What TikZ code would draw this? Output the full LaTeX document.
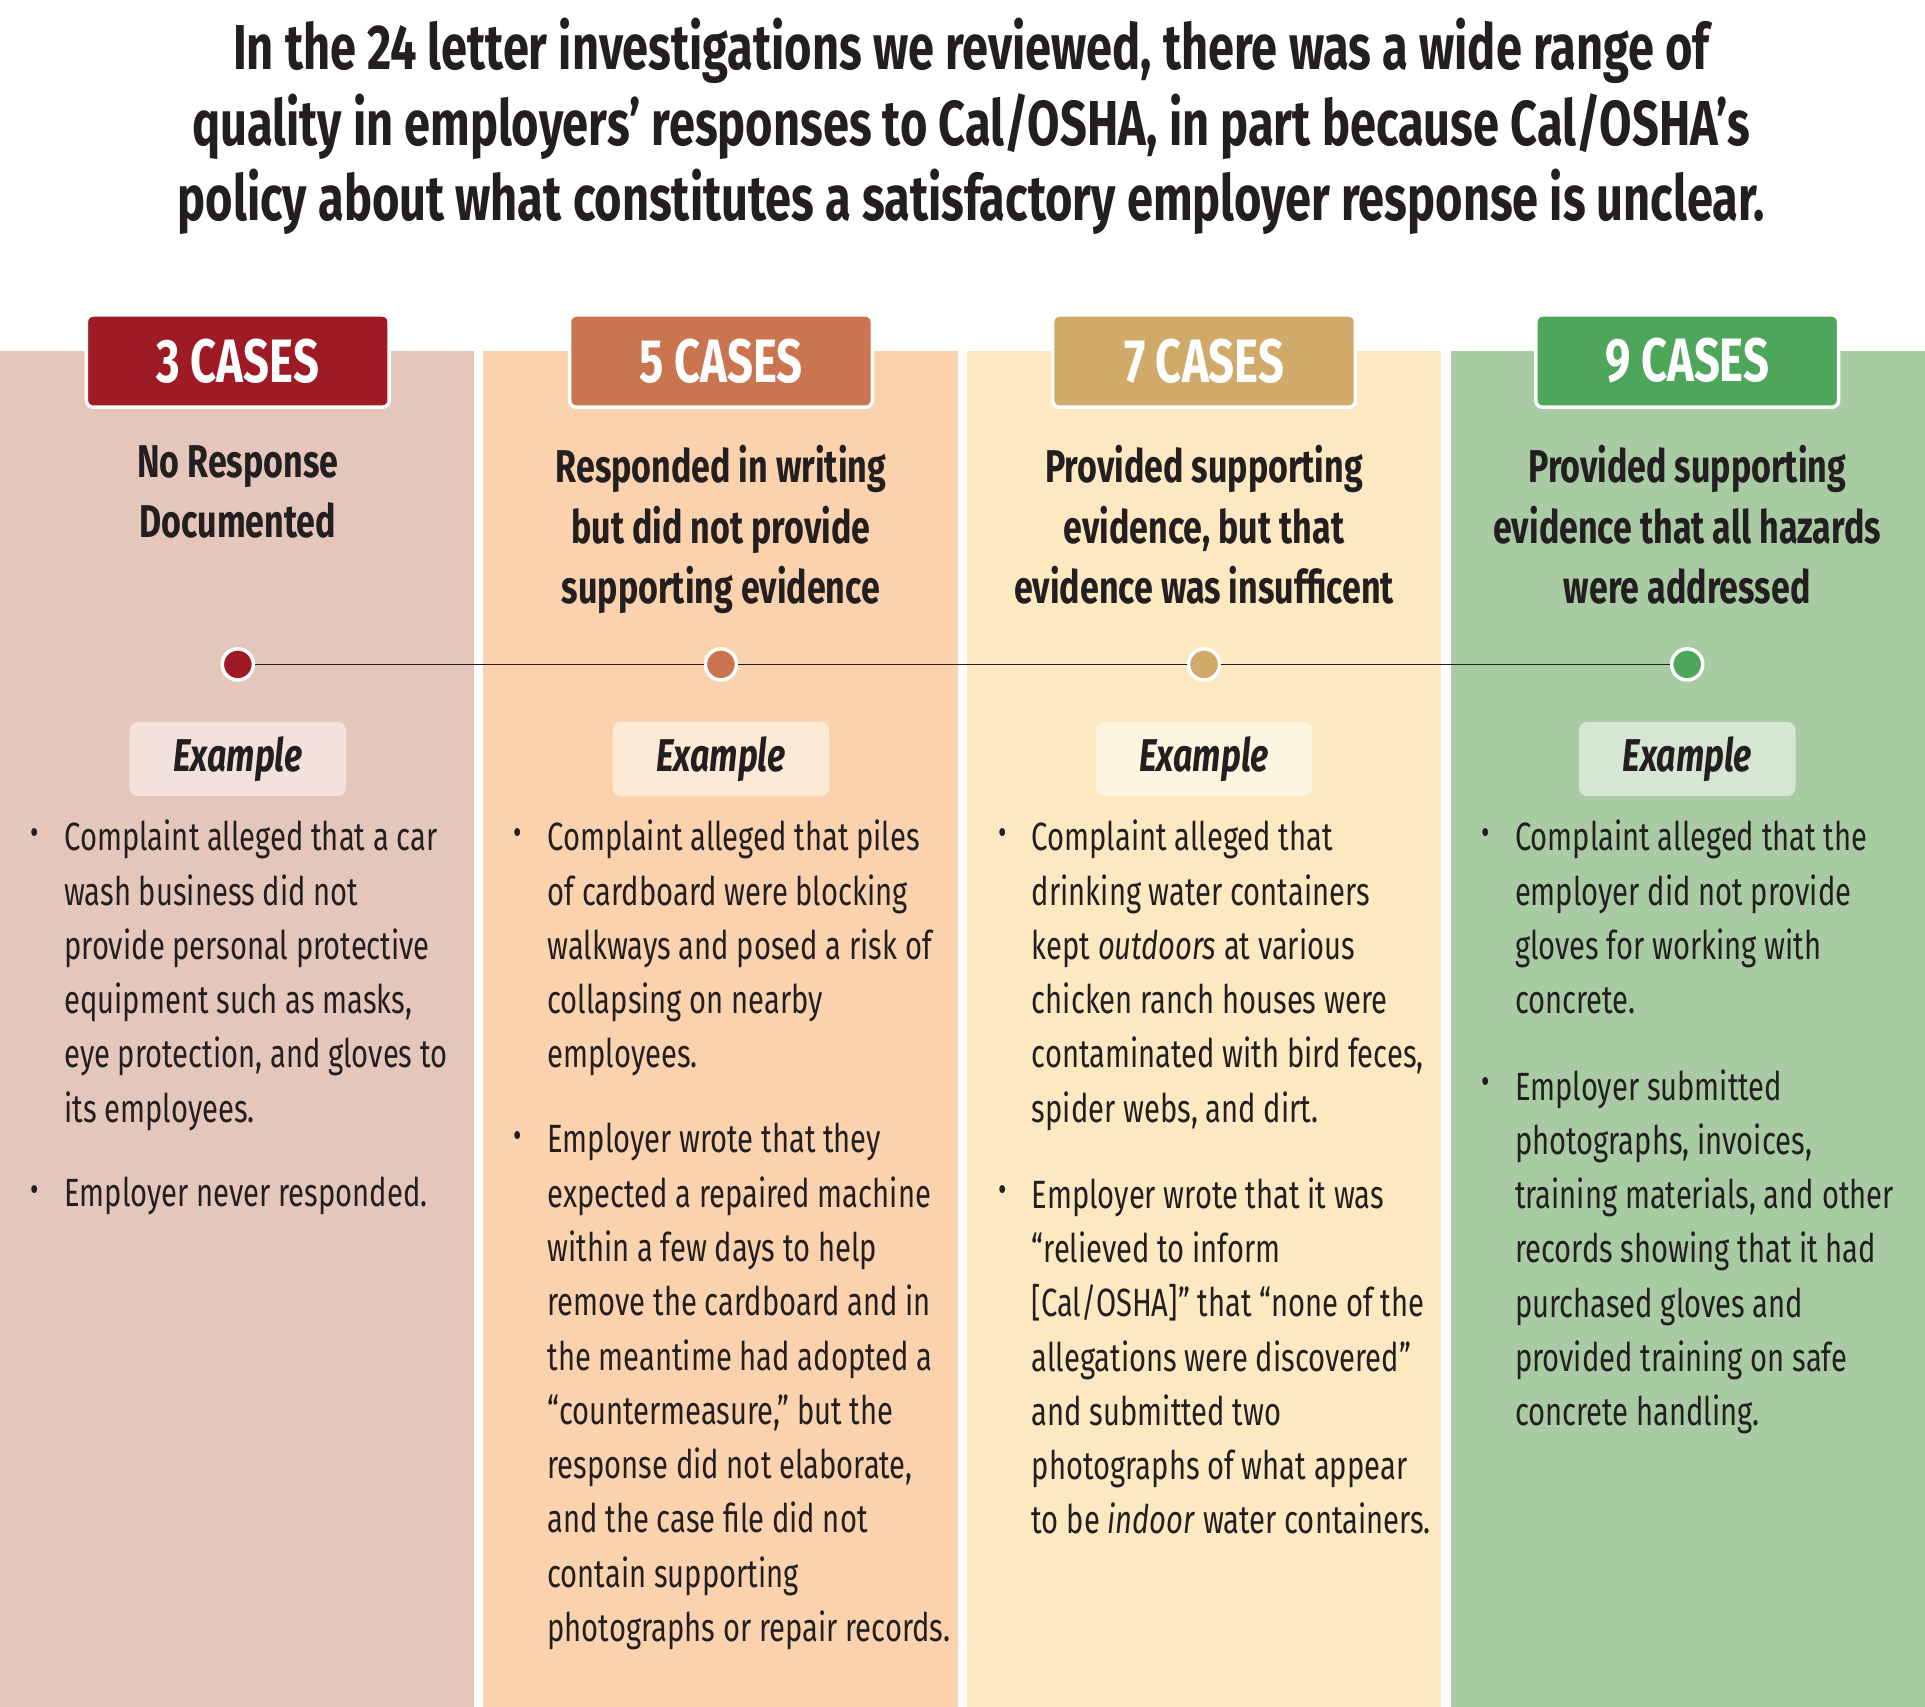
\documentclass[tikz,border=0pt]{standalone}
\usepackage{fontspec}
\setmainfont{Fira Sans}[FakeStretch=0.74]
\usetikzlibrary{positioning}
\definecolor{redA}{HTML}{9E1B26}\definecolor{bgA}{HTML}{E5C6BB}\definecolor{exA}{HTML}{F3E1DC}
\definecolor{redB}{HTML}{CB7550}\definecolor{bgB}{HTML}{FAD3AE}\definecolor{exB}{HTML}{FCE9D6}
\definecolor{redC}{HTML}{CFAA69}\definecolor{bgC}{HTML}{FDE9C1}\definecolor{exC}{HTML}{FEF5E0}
\definecolor{redD}{HTML}{4DA65A}\definecolor{bgD}{HTML}{A8CBA3}\definecolor{exD}{HTML}{D5E6D2}
\definecolor{ink}{HTML}{231F20}
\tikzset{
  casebox/.style={draw=white,line width=0.8pt,rounded corners=1.5pt,minimum width=2.43cm,minimum height=0.74cm,
    text=white,font=\fontsize{14}{16}\selectfont\bfseries},
  heading/.style={align=center,text=ink,font=\fontsize{10.5}{13.8}\selectfont\bfseries,anchor=north,inner sep=0},
  exbox/.style={fill=#1,rounded corners=2pt,minimum width=1.74cm,minimum height=0.48cm,
    font=\fontsize{10.5}{12}\selectfont\bfseries\itshape,text=ink},
  bodytext/.style={align=left,text=ink,font=\fontsize{9}{12.4}\selectfont,anchor=north west,inner sep=0},
  bul/.style={text=ink,font=\fontsize{8}{10}\selectfont,inner sep=0},
  dot/.style={circle,fill=#1,draw=white,line width=0.8pt,minimum size=0.25cm,inner sep=0},
}
\newcommand{\bulitem}[4]{% col left, top line centre, name, text
  \node[bul] (#3b) at (#1+28,#2) {\textbullet};
  \node[bodytext] (#3) at (#1+51,#2-14) {#4};}
\begin{document}
\begin{tikzpicture}[x=0.01cm,y=-0.00986cm]
\useasboundingbox[fill=white] (0,0) rectangle (1546,1390);
% title
\node[align=center,text=ink,font=\fontsize{14.5}{17.2}\selectfont\bfseries] (title) at (780,103)
  {In the 24 letter investigations we reviewed, there was a wide range of\\
   quality in employers' responses to Cal/OSHA, in part because Cal/OSHA's\\
   policy about what constitutes a satisfactory employer response is unclear.};
% columns
\fill[bgA] (0,286) rectangle (381,1390);
\fill[bgB] (388,286) rectangle (769,1390);
\fill[bgC] (777,286) rectangle (1157,1390);
\fill[bgD] (1165,286) rectangle (1546,1390);
\node[casebox,fill=redA] (caseA) at (191,294) {3 CASES};
\node[casebox,fill=redB] (caseB) at (579,294) {5 CASES};
\node[casebox,fill=redC] (caseC) at (967,294) {7 CASES};
\node[casebox,fill=redD] (caseD) at (1355,294) {9 CASES};
\node[heading] (headA) at (191,362) {No Response\\Documented};
\node[heading] (headB) at (579,362) {Responded in writing\\but did not provide\\supporting evidence};
\node[heading] (headC) at (967,362) {Provided supporting\\evidence, but that\\evidence was insufficent};
\node[heading] (headD) at (1355,362) {Provided supporting\\evidence that all hazards\\were addressed};
% timeline
\node[dot=redA] (dotA) at (191,541) {};
\node[dot=redB] (dotB) at (579,541) {};
\node[dot=redC] (dotC) at (967,541) {};
\node[dot=redD] (dotD) at (1355,541) {};
\draw[ink,thin] (dotA) -- (dotB) (dotB) -- (dotC) (dotC) -- (dotD);
\node[exbox=exA] (exA) at (191,618) {Example};
\node[exbox=exB] (exB) at (579,618) {Example};
\node[exbox=exC] (exC) at (967,618) {Example};
\node[exbox=exD] (exD) at (1355,618) {Example};
% bullets
\bulitem{0}{681}{txtAa}{Complaint alleged that a car\\wash business did not\\provide personal protective\\equipment such as masks,\\eye protection, and gloves to\\its employees.}
\bulitem{0}{972}{txtAb}{Employer never responded.}
\bulitem{388}{681}{txtBa}{Complaint alleged that piles\\of cardboard were blocking\\walkways and posed a risk of\\collapsing on nearby\\employees.}
\bulitem{388}{928}{txtBb}{Employer wrote that they\\expected a repaired machine\\within a few days to help\\remove the cardboard and in\\the meantime had adopted a\\“countermeasure,” but the\\response did not elaborate,\\and the case file did not\\contain supporting\\photographs or repair records.}
\bulitem{777}{681}{txtCa}{Complaint alleged that\\drinking water containers\\kept \textit{outdoors} at various\\chicken ranch houses were\\contaminated with bird feces,\\spider webs, and dirt.}
\bulitem{777}{972}{txtCb}{Employer wrote that it was\\“relieved to inform\\{[}Cal/OSHA{]}” that “none of the\\allegations were discovered”\\and submitted two\\photographs of what appear\\to be \textit{indoor} water containers.}
\bulitem{1165}{681}{txtDa}{Complaint alleged that the\\employer did not provide\\gloves for working with\\concrete.}
\bulitem{1165}{884}{txtDb}{Employer submitted\\photographs, invoices,\\training materials, and other\\records showing that it had\\purchased gloves and\\provided training on safe\\concrete handling.}
\end{tikzpicture}
\end{document}
